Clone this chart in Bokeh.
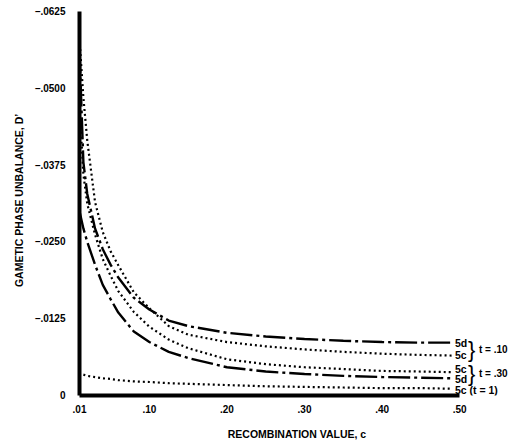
from bokeh.plotting import figure
from bokeh.models import FixedTicker, Label
from bokeh.embed import file_html
from bokeh.resources import INLINE

# recombination values (x) and gametic phase unbalance magnitudes (|D'|)
c = [0.01, 0.015, 0.02, 0.03, 0.04, 0.05, 0.06, 0.08, 0.10, 0.125, 0.15,
     0.20, 0.25, 0.30, 0.35, 0.40, 0.45, 0.49]
d_5d_t10 = [0.0560, 0.0380, 0.0328, 0.0272, 0.0238, 0.0213, 0.0192, 0.0159,
            0.0140, 0.0122, 0.0113, 0.0102, 0.0096, 0.0092, 0.0089, 0.0087,
            0.0086, 0.0086]
d_5c_t10 = [0.0580, 0.0485, 0.0415, 0.0315, 0.0266, 0.0235, 0.0212, 0.0168,
            0.0142, 0.0113, 0.0099, 0.0087, 0.0080, 0.0075, 0.0071, 0.0068,
            0.0066, 0.0065]
d_5c_t30 = [0.0470, 0.0360, 0.0312, 0.0262, 0.0222, 0.0195, 0.0170, 0.0136,
            0.0112, 0.0091, 0.0077, 0.0059, 0.0051, 0.0046, 0.0043, 0.0040,
            0.0039, 0.0038]
d_5d_t30 = [0.0300, 0.0272, 0.0250, 0.0213, 0.0180, 0.0157, 0.0135, 0.0104,
            0.0087, 0.0071, 0.0061, 0.0046, 0.0039, 0.0035, 0.0032, 0.0030,
            0.0029, 0.0028]
c_t1 = [0.015, 0.02, 0.03, 0.04, 0.05, 0.06, 0.08, 0.10, 0.125, 0.15,
        0.20, 0.25, 0.30, 0.35, 0.40, 0.45, 0.49]
d_5c_t1 = [0.0034, 0.0032, 0.0030, 0.0028, 0.0027, 0.0025, 0.0023, 0.0022,
           0.0020, 0.0019, 0.0017, 0.0015, 0.0014, 0.0013, 0.0012, 0.0012,
           0.0011]

x_ticks = [0.01, 0.1, 0.2, 0.3, 0.4, 0.5]
x_tick_labels = [".01", ".10", ".20", ".30", ".40", ".50"]
y_ticks = [0, 0.0125, 0.025, 0.0375, 0.05, 0.0625]
y_tick_labels = ["0", "\u2013.0125", "\u2013.0250", "\u2013.0375", "\u2013.0500", "\u2013.0625"]

FONT = "Liberation Sans"

p = figure(width=514, height=442, x_range=(0.01, 0.5706), y_range=(0, 0.06348),
           min_border_left=79, min_border_right=0, min_border_top=5,
           min_border_bottom=47, output_backend="svg", toolbar_location=None)
p.grid.visible = False
p.outline_line_color = None
p.background_fill_color = "white"
p.border_fill_color = "white"

for ax in (p.xaxis[0], p.yaxis[0]):
    ax.axis_line_width = 4
    ax.axis_line_color = "black"
    ax.major_tick_in = 0
    ax.major_tick_out = 0
    ax.minor_tick_in = 0
    ax.minor_tick_out = 0
    ax.major_label_text_font = FONT
    ax.major_label_text_font_style = "bold"
    ax.major_label_text_font_size = "10px"
    ax.major_label_text_color = "black"
    ax.axis_label_text_font = FONT
    ax.axis_label_text_font_style = "bold"
    ax.axis_label_text_font_size = "10.5px"
    ax.axis_label_text_color = "black"

p.xaxis[0].ticker = FixedTicker(ticks=x_ticks)
p.xaxis[0].major_label_overrides = dict(zip(x_ticks, x_tick_labels))
p.xaxis[0].bounds = (x_ticks[0], x_ticks[-1])
p.xaxis[0].major_label_standoff = 9
p.xaxis[0].axis_label = "RECOMBINATION VALUE, c"
p.xaxis[0].axis_label_standoff = 12

p.yaxis[0].ticker = FixedTicker(ticks=y_ticks)
p.yaxis[0].major_label_overrides = dict(zip(y_ticks, y_tick_labels))
p.yaxis[0].bounds = (y_ticks[0], y_ticks[-1])
p.yaxis[0].major_label_standoff = 14
p.yaxis[0].axis_label = "GAMETIC PHASE UNBALANCE, D\u2019"
p.yaxis[0].axis_label_standoff = 7

DASHDOT = "22 4 3 4"
DOT = "2 3"
p.line(c, d_5d_t10, line_color="black", line_width=2.4, line_dash=DASHDOT)
p.line(c, d_5c_t10, line_color="black", line_width=2.2, line_dash=DOT)
p.line(c, d_5c_t30, line_color="black", line_width=2.2, line_dash=DOT)
p.line(c, d_5d_t30, line_color="black", line_width=2.4, line_dash=DASHDOT)
p.line(c_t1, d_5c_t1, line_color="black", line_width=2.2, line_dash=DOT)

def lab(x, y, text, xo=3, yo=0, size="10.5px", bold=True):
    p.add_layout(Label(x=x, y=y, x_offset=xo, y_offset=yo, text=text,
                       text_font=FONT, text_font_size=size,
                       text_font_style="bold" if bold else "normal",
                       text_baseline="middle", text_color="black"))

xe = c[-1]
lab(xe, d_5d_t10[-1], "5d", yo=0)
lab(xe, d_5c_t10[-1], "5c", yo=1)
lab(xe, d_5c_t30[-1], "5c", yo=3)
lab(xe, d_5d_t30[-1], "5d", yo=-1)
lab(xe, d_5c_t1[-1], "5c (t = 1)", yo=-1)

mid1 = (d_5d_t10[-1] + d_5c_t10[-1]) / 2
mid2 = (d_5c_t30[-1] + d_5d_t30[-1]) / 2
lab(xe, mid1, "}", xo=16, size="22px", bold=False)
lab(xe, mid2, "}", xo=16, size="22px", bold=False, yo=2)
lab(xe, mid1, "t = .10", xo=27, size="10px")
lab(xe, mid2, "t = .30", xo=27, size="10px", yo=2)

open("out.html", "w").write(file_html(p, INLINE))
